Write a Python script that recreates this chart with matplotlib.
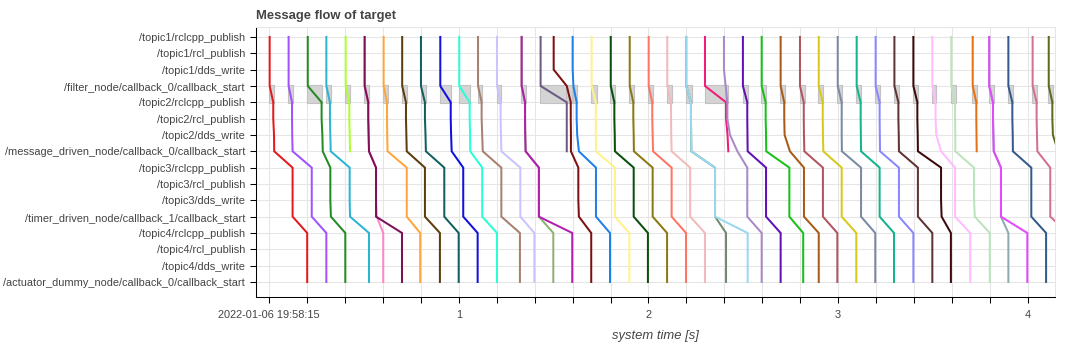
import numpy as np
import matplotlib
matplotlib.use("Agg")
import matplotlib.pyplot as plt
from matplotlib.patches import Rectangle

nan = np.nan

title = "Message flow of target"
x_label = "system time [s]"
first_tick_label = "2022-01-06 19:58:15"

categories = [
    "/topic1/rclcpp_publish",
    "/topic1/rcl_publish",
    "/topic1/dds_write",
    "/filter_node/callback_0/callback_start",
    "/topic2/rclcpp_publish",
    "/topic2/rcl_publish",
    "/topic2/dds_write",
    "/message_driven_node/callback_0/callback_start",
    "/topic3/rclcpp_publish",
    "/topic3/rcl_publish",
    "/topic3/dds_write",
    "/timer_driven_node/callback_1/callback_start",
    "/topic4/rclcpp_publish",
    "/topic4/rcl_publish",
    "/topic4/dds_write",
    "/actuator_dummy_node/callback_0/callback_start",
]

# times (s) of each message flow at each stage of the path
t_topic1 = [0.002, 0.102, 0.203, 0.301, 0.403, 0.503, 0.503, 0.603, 0.701, 0.800,
            0.902, 1.002, 1.101, 1.201, 1.331, 1.331, 1.431, 1.500, 1.600, 1.700,
            1.801, 1.901, 2.001, 2.099, 2.199, 2.199, 2.298, 2.398, 2.498, 2.597,
            2.697, 2.799, 2.898, 2.998, 3.098, 3.198, 3.297, 3.397, 3.497, 3.597,
            3.710, 3.797, 3.797, 3.898, 4.026, 4.111]
t_filter_start = [0.002, 0.102, 0.203, 0.301, 0.403, 0.503, 0.503, 0.603, 0.701, 0.800,
                  0.902, 1.002, 1.101, 1.201, 1.331, 1.331, 1.431, 1.569, 1.604, 1.700,
                  1.801, 1.901, 2.001, 2.099, 2.199, 2.199, 2.298, 2.407, 2.498, 2.597,
                  2.697, 2.799, 2.898, 2.998, 3.098, 3.198, 3.297, 3.397, 3.497, 3.597,
                  3.710, 3.797, 3.797, 3.898, 4.026, 4.111]
t_topic2 = [0.021, 0.120, 0.276, 0.320, 0.422, 0.522, 0.522, 0.621, 0.721, 0.821,
            0.957, 1.057, 1.120, 1.220, 1.349, 1.349, 1.569, 1.590, 1.621, 1.722,
            1.820, 1.920, 2.020, 2.119, 2.224, 2.224, 2.409, 2.416, 2.521, 2.618,
            2.716, 2.819, 2.919, 3.019, 3.119, 3.219, 3.318, 3.418, 3.514, 3.617,
            3.729, 3.817, 3.817, 3.919, 4.047, 4.130]
t_topic2_dds = [0.025, 0.121, 0.280, 0.322, 0.424, 0.524, 0.524, 0.622, 0.723, 0.824,
                0.959, 1.059, 1.123, 1.222, 1.350, 1.350, 1.569, 1.591, 1.624, 1.722,
                1.822, 1.922, 2.022, 2.120, 2.225, 2.225, 2.417, 2.430, 2.522, 2.620,
                2.718, 2.820, 2.920, 3.019, 3.120, 3.220, 3.320, 3.420, 3.518, 3.618,
                3.730, 3.819, 3.819, 3.921, 4.049, 4.133]
t_md_start = [0.026, 0.123, 0.282, 0.324, 0.426, 0.526, 0.526, 0.624, 0.725, 0.826,
              0.962, 1.060, 1.126, 1.224, 1.352, 1.352, 1.569, 1.591, 1.633, 1.723,
              1.823, 1.923, 2.024, 2.122, 2.226, 2.226, 2.421, 2.469, 2.523, 2.621,
              2.746, 2.822, 2.922, 3.020, 3.121, 3.221, 3.321, 3.421, 3.543, 3.618,
              3.731, 3.821, 3.821, 3.922, 4.051, 4.160]
t_topic3 = [0.123, 0.224, 0.322, 0.424, nan, 0.563, 0.563, 0.725, 0.821, 0.923,
            1.023, 1.123, 1.224, 1.324, 1.422, 1.422, nan, 1.630, 1.723, 1.823,
            1.922, 2.022, 2.122, 2.220, 2.351, 2.351, nan, 2.521, 2.620, 2.743,
            2.820, 2.920, 3.019, 3.121, 3.219, 3.321, 3.421, 3.543, 3.617, 3.717,
            nan, 3.859, 3.859, 4.019, 4.119, nan]
t_timer_start = [0.123, 0.224, 0.325, 0.426, nan, 0.567, 0.563, 0.725, 0.821, 0.923,
                 1.023, 1.123, 1.224, 1.324, 1.422, 1.422, nan, 1.633, 1.723, 1.823,
                 1.922, 2.022, 2.122, 2.220, 2.351, 2.351, nan, 2.521, 2.620, 2.743,
                 2.820, 2.920, 3.019, 3.121, 3.219, 3.321, 3.421, 3.546, 3.617, 3.721,
                 nan, 3.859, 3.859, 4.019, 4.119, nan]
t_topic4 = [0.200, 0.301, 0.401, 0.526, nan, 0.601, 0.700, 0.796, 0.900, 0.999,
            1.099, 1.201, 1.322, 1.398, 1.498, 1.598, nan, 1.698, 1.797, 1.899,
            1.997, 2.098, 2.198, 2.298, 2.409, 2.523, nan, 2.597, 2.697, 2.816,
            2.898, 2.996, 3.096, 3.196, 3.295, 3.397, 3.497, 3.595, 3.697, 3.800,
            nan, 3.898, 3.998, 4.097, 4.212, nan]

flow_colors = ['#e31a1c', '#a052ff', '#228b22', '#2cb5d2', '#adff2f', '#ff85c8', '#800f5a', '#ffa53b', '#5c3d0e', '#106060',
               '#1010e0', '#27ffd4', '#a8806e', '#c8c4ff', '#8fb070', '#b01eb0', '#6b5a84', '#7d1111', '#1e80e8', '#fff28a',
               '#0a4f0a', '#8b7a12', '#ff7462', '#f2baba', '#6f8a6f', '#98d8f0', '#f01c7a', '#a88ac8', '#6010b4', '#18c018',
               '#a85a18', '#b05560', '#d8c818', '#7a8aa2', '#14b48e', '#8888ff', '#603434', '#3c0a0a', '#ffbcff', '#bce4bc',
               '#e87010', '#8cacac', '#e448ff', '#335a8c', '#d07094', '#5e6a1e']

# which stage array gives the time at each category row
stage_of_row = [t_topic1, t_topic1, t_topic1, t_filter_start,
                t_topic2, t_topic2, t_topic2_dds, t_md_start,
                t_topic3, t_topic3, t_topic3, t_timer_start,
                t_topic4, t_topic4, t_topic4, t_topic4]

W, H = 1085, 346
fig = plt.figure(figsize=(W / 100, H / 100), dpi=100)
plt.rcParams['font.family'] = ['Liberation Sans', 'DejaVu Sans']
L, R, T, B = 256, 1055, 27, 297
ax = fig.add_axes([L / W, 1 - B / H, (R - L) / W, (B - T) / H])

n_rows = len(categories)
rows = np.arange(n_rows)

# filter_node callback boxes
seen = set()
for fs, t2 in zip(t_filter_start, t_topic2):
    if (fs, t2) in seen:
        continue
    seen.add((fs, t2))
    ax.add_patch(Rectangle((fs - 0.002, 2.96), (t2 - fs) + 0.006, 1.08,
                           facecolor='#d4d4d4', edgecolor='#c2c2c2', lw=0.8, zorder=2))

n_flows = len(t_topic1)
for i in range(n_flows):
    xs = np.array([stage_of_row[r][i] for r in range(n_rows)], dtype=float)
    ax.plot(xs, rows, color=flow_colors[i], lw=1.45, zorder=3, solid_joinstyle='miter')

ax.set_ylim(15.92, -0.61)
ax.set_xlim(-0.070, 4.144)
ax.set_yticks(rows)
ax.set_yticklabels(categories)
xt = np.round(np.arange(0, 4.01, 0.2), 1)
ax.set_xticks(xt)
xlabels = []
for v in xt:
    if v == 0:
        xlabels.append(first_tick_label)
    elif abs(v - round(v)) < 1e-9:
        xlabels.append(str(int(round(v))))
    else:
        xlabels.append("")
ax.set_xticklabels(xlabels)

ax.grid(True, color='#e5e5e5', lw=0.75, zorder=0)
ax.set_axisbelow(True)
for s in ['top', 'right']:
    ax.spines[s].set_color('#e5e5e5')
    ax.spines[s].set_linewidth(0.75)
for s in ['left', 'bottom']:
    ax.spines[s].set_color('black')
    ax.spines[s].set_linewidth(0.75)

ax.tick_params(axis='y', length=4.32, width=0.75, pad=3.6, labelsize=7.92, labelcolor='#444444', color='black')
ax.tick_params(axis='x', length=4.32, width=0.75, pad=5.0, labelsize=7.92, labelcolor='#444444', color='black')

fig.text(L / W, 1 - 19.5 / H, title, fontsize=9.36, fontweight='bold', color='#444444',
         ha='left', va='baseline')
fig.text((L + R) / 2 / W, 1 - 336 / H, x_label, fontsize=9.36, fontstyle='italic', color='#444444',
         ha='center', va='center')

fig.savefig("out.png", dpi=100)
